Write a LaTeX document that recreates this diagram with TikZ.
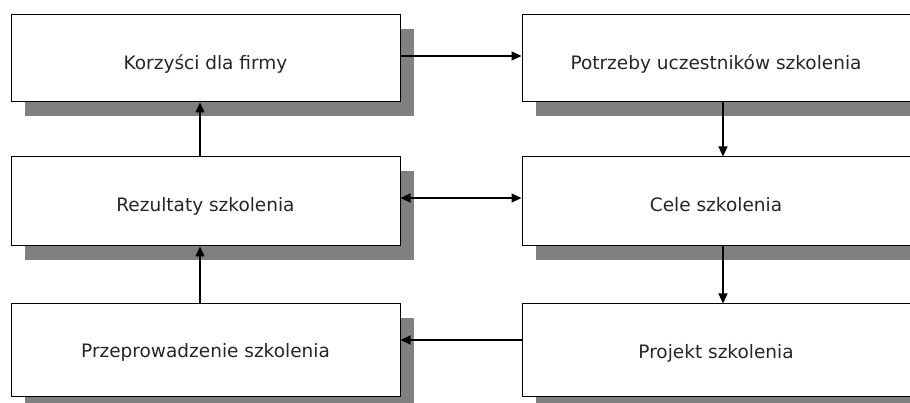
\documentclass[tikz,border=0pt]{standalone}
\usepackage{fontspec}
\setmainfont{DejaVu Sans}
\usetikzlibrary{arrows.meta,shadows}
\tikzset{
  box/.style={draw=black, line width=1pt, fill=white, rectangle, inner sep=0pt,
    font=\fontsize{18.5}{22}\selectfont, text=black!85, text depth=0pt,
    drop shadow={shadow xshift=14pt, shadow yshift=-14pt, fill=black!50, opacity=1}},
  arr/.style={line width=1.1pt, -{Triangle[length=10pt,width=9pt]}},
  darr/.style={line width=1.1pt, {Triangle[length=10pt,width=9pt]}-{Triangle[length=10pt,width=9pt]}}
}
\begin{document}
\begin{tikzpicture}[x=1pt,y=-1pt]
\useasboundingbox (0,0) rectangle (910,403);
\clip (0,0) rectangle (910,403);
\node[box, minimum width=389pt, minimum height=87pt, text height=22.5pt] (kor) at (205.5,58.5) {Korzyści dla firmy};
\node[box, minimum width=388pt, minimum height=87pt, text height=23pt] (pot) at (716,58.5) {Potrzeby uczestników szkolenia};
\node[box, minimum width=389pt, minimum height=89pt, text height=19.5pt] (rez) at (205.5,201.5) {Rezultaty szkolenia};
\node[box, minimum width=388pt, minimum height=89pt, text height=19.5pt] (cel) at (716,201.5) {Cele szkolenia};
\node[box, minimum width=389pt, minimum height=92pt, text height=15.5pt] (prz) at (205.5,350) {Przeprowadzenie szkolenia};
\node[box, minimum width=388pt, minimum height=92pt, text height=16.5pt] (pro) at (716,350) {Projekt szkolenia};
\draw[arr] ([yshift=2.5pt]kor.east) -- ([yshift=2.5pt]pot.west);
\draw[arr] ([xshift=7pt]pot.south) -- ([xshift=7pt]cel.north);
\draw[darr] ([yshift=3.5pt]rez.east) -- ([yshift=3.5pt]cel.west);
\draw[arr] ([xshift=7pt]cel.south) -- ([xshift=7pt]pro.north);
\draw[arr] ([yshift=10pt]pro.west) -- ([yshift=10pt]prz.east);
\draw[arr] ([xshift=-5.5pt]prz.north) -- ([xshift=-5.5pt]rez.south);
\draw[arr] ([xshift=-5.5pt]rez.north) -- ([xshift=-5.5pt]kor.south);
\end{tikzpicture}
\end{document}
